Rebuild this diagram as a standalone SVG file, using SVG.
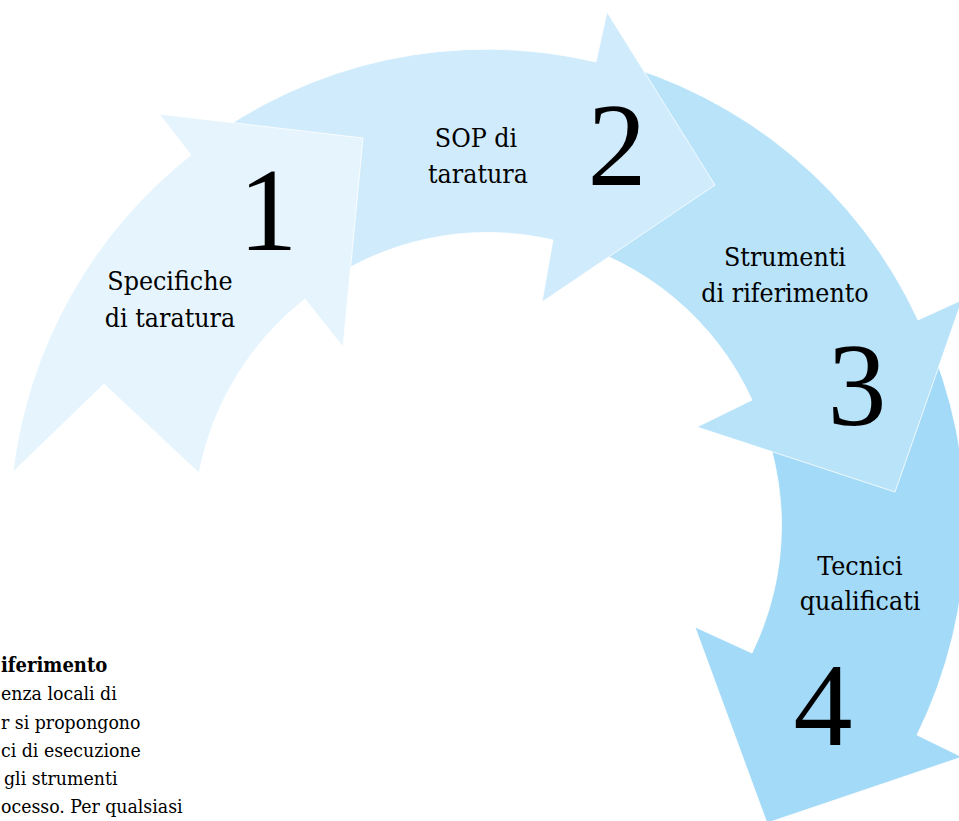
<svg xmlns="http://www.w3.org/2000/svg" width="959" height="821" viewBox="0 0 959 821">
  <style>
    .arrow { stroke: #ffffff; stroke-width: 0.8; stroke-linejoin: miter; }
    .a1 { fill: #E6F5FD; }
    .a2 { fill: #D0EBFB; }
    .a3 { fill: #B8E3F9; }
    .a4 { fill: #A3DAF7; }
    .label { font-family: "DejaVu Serif Condensed", "DejaVu Serif", serif; font-stretch: condensed; font-size: 26.5px; fill: #000; text-anchor: middle; }
    .num { font-family: "Liberation Serif", "Times New Roman", serif; font-size: 118px; fill: #000; text-anchor: middle; }
    .body { font-family: "DejaVu Serif Condensed", "DejaVu Serif", serif; font-stretch: condensed; font-size: 19.3px; fill: #000; text-anchor: start; }
    .bold { font-weight: bold; font-size: 20px; }
  </style>
  <rect x="0" y="0" width="959" height="821" fill="#ffffff"/>

  <g id="step4">
    <path class="arrow a4" d="M 924,330 A 476 476 0 0 1 917,735 L 962,757 L 767,823 L 695,627 L 752,653 A 291 291 0 0 0 755,404 L 860,429 Z"/>
    <text class="label" x="860" y="575">Tecnici</text>
    <text class="label" x="860" y="610">qualificati</text>
    <text class="num" x="823" y="745">4</text>
  </g>

  <g id="step3">
    <path class="arrow a3" d="M 606,60 A 474 474 0 0 1 918,320 L 962,300 L 895,492 L 697,427 L 752,400 A 289 289 0 0 0 561,240 L 645,172 Z"/>
    <text class="label" x="785" y="266">Strumenti</text>
    <text class="label" x="785" y="302">di riferimento</text>
    <text class="num" x="857" y="425">3</text>
  </g>

  <g id="step2">
    <path class="arrow a2" d="M 198,147 A 474 474 0 0 1 596,62 L 607,12 L 715,185 L 542,302 L 553,240 A 288 288 0 0 0 312,292 L 311,184 Z"/>
    <text class="label" x="476" y="147">SOP di</text>
    <text class="label" x="478" y="183">taratura</text>
    <text class="num" x="617" y="185">2</text>
  </g>

  <g id="step1">
    <path class="arrow a1" d="M 13,472 A 476 476 0 0 1 191,155 L 159,114 L 363,138 L 343,347 L 305,299 A 291 291 0 0 0 199,473 L 104,384 Z"/>
    <text class="label" x="170" y="290">Specifiche</text>
    <text class="label" x="170" y="327">di taratura</text>
    <text class="num" x="268" y="250">1</text>
  </g>

  <g id="connectors"></g>

  <g id="note">
    <text class="body bold" x="1" y="672">iferimento</text>
    <text class="body" x="1" y="700">enza locali di</text>
    <text class="body" x="1" y="729">r si propongono</text>
    <text class="body" x="1" y="757">ci di esecuzione</text>
    <text class="body" x="4" y="785">gli strumenti</text>
    <text class="body" x="1" y="813">ocesso. Per qualsiasi</text>
  </g>
</svg>
